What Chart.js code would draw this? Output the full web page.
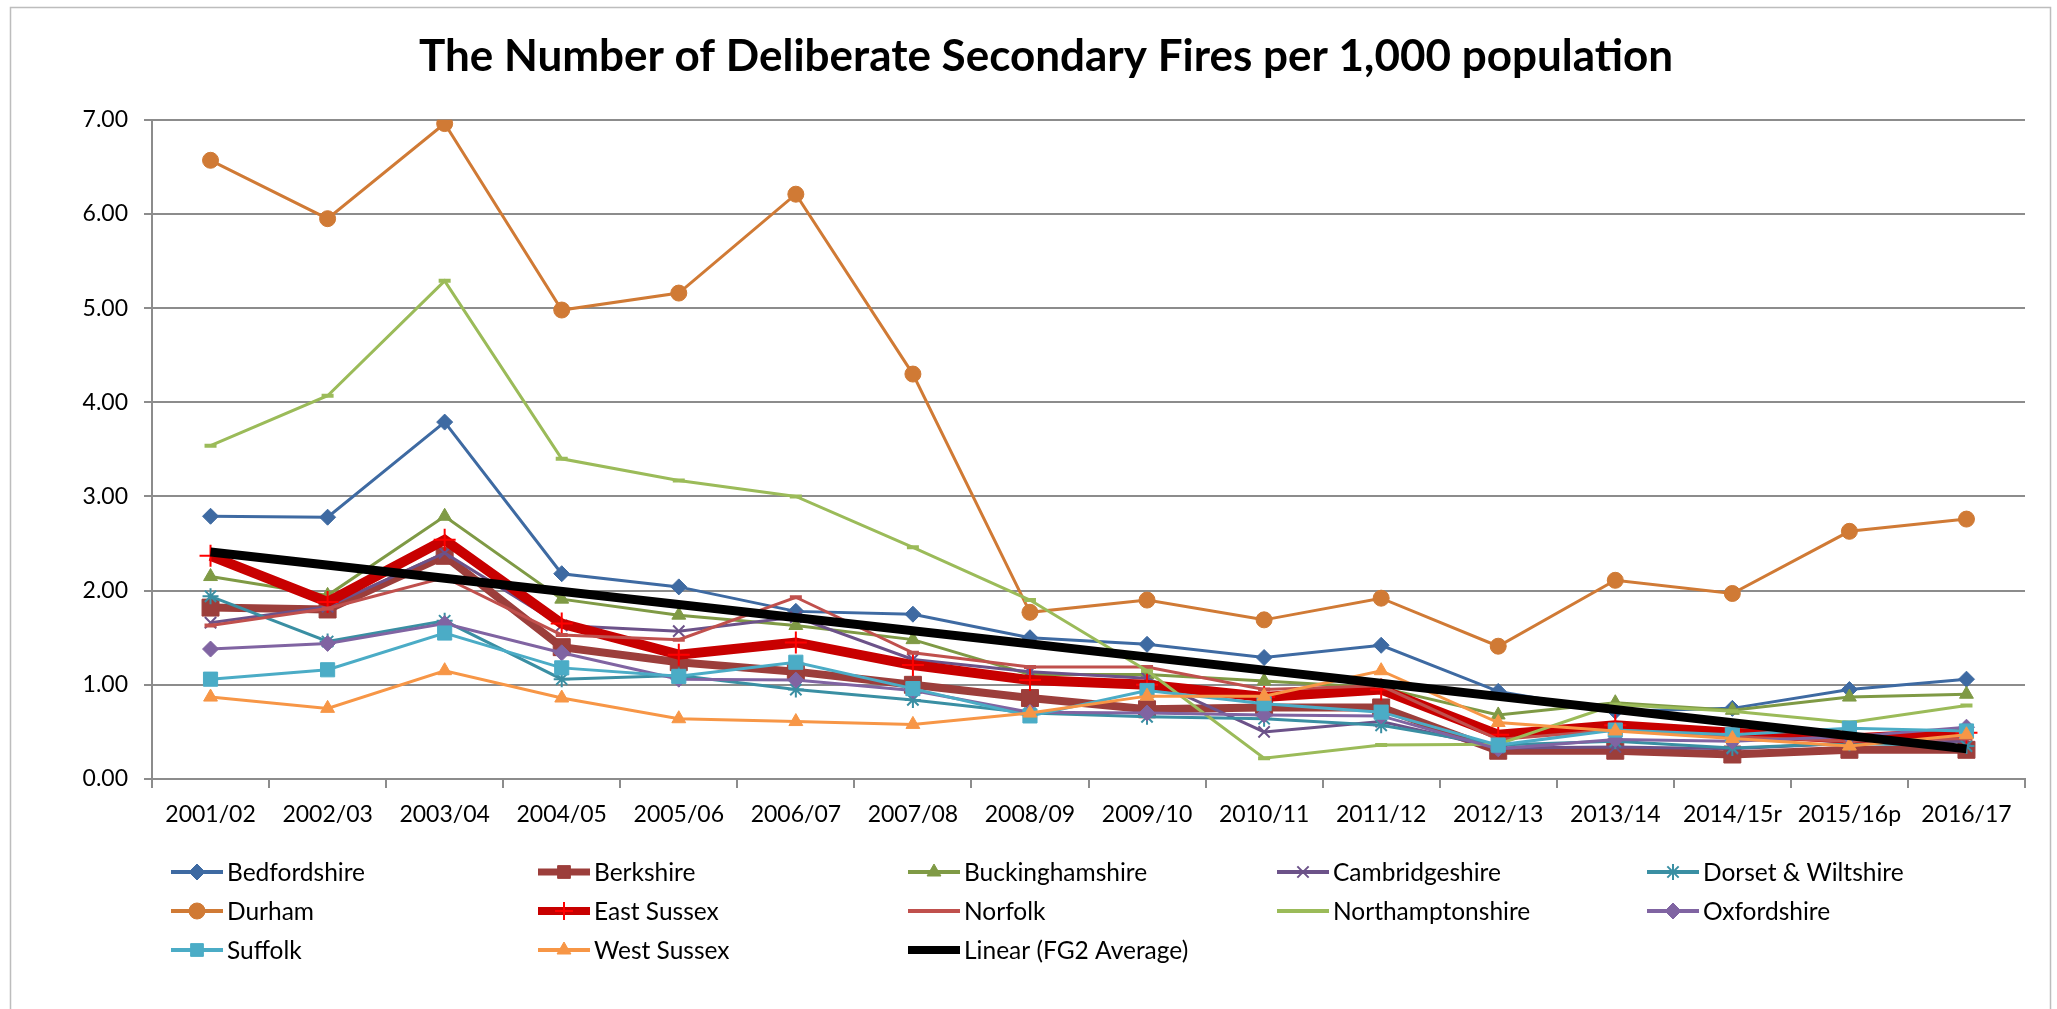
<!DOCTYPE html>
<html><head><meta charset="utf-8">
<script src="https://cdn.jsdelivr.net/npm/chart.js@4.4.1/dist/chart.umd.min.js"></script>
<style>html,body{margin:0;padding:0;background:#fff;overflow:hidden}canvas{display:block}</style>
</head><body>
<canvas id="c" width="2057" height="1009"></canvas>
<script>
// ---------- DATA ----------
const categories = ['2001/02','2002/03','2003/04','2004/05','2005/06','2006/07','2007/08','2008/09','2009/10','2010/11','2011/12','2012/13','2013/14','2014/15r','2015/16p','2016/17'];
const yTickValues = [0, 1, 2, 3, 4, 5, 6, 7];
const bedfordshire     = [2.79, 2.78, 3.79, 2.18, 2.04, 1.78, 1.75, 1.50, 1.43, 1.29, 1.42, 0.93, 0.72, 0.75, 0.95, 1.06];
const berkshire        = [1.82, 1.80, 2.37, 1.40, 1.24, 1.14, 1.00, 0.86, 0.74, 0.76, 0.76, 0.30, 0.30, 0.26, 0.31, 0.31];
const buckinghamshire  = [2.15, 1.95, 2.79, 1.91, 1.74, 1.63, 1.48, 1.11, 1.11, 1.04, 0.97, 0.68, 0.81, 0.73, 0.87, 0.90];
const cambridgeshire   = [1.66, 1.83, 2.40, 1.63, 1.57, 1.72, 1.27, 1.14, 1.07, 0.50, 0.61, 0.33, 0.34, 0.32, 0.38, 0.40];
const dorsetWiltshire  = [1.94, 1.46, 1.68, 1.06, 1.10, 0.95, 0.84, 0.70, 0.66, 0.64, 0.57, 0.36, 0.40, 0.33, 0.38, 0.35];
const durham           = [6.57, 5.95, 6.96, 4.98, 5.16, 6.21, 4.30, 1.77, 1.90, 1.69, 1.92, 1.41, 2.11, 1.97, 2.63, 2.76];
const eastSussex       = [2.37, 1.88, 2.54, 1.65, 1.32, 1.45, 1.21, 1.05, 1.00, 0.87, 0.95, 0.47, 0.57, 0.49, 0.43, 0.49];
const norfolk          = [1.63, 1.81, 2.14, 1.53, 1.48, 1.93, 1.34, 1.19, 1.19, 0.95, 0.99, 0.42, 0.52, 0.45, 0.40, 0.43];
const northamptonshire = [3.54, 4.07, 5.29, 3.40, 3.17, 3.00, 2.46, 1.90, 1.15, 0.22, 0.36, 0.37, 0.79, 0.72, 0.60, 0.78];
const oxfordshire      = [1.38, 1.44, 1.65, 1.34, 1.06, 1.05, 0.94, 0.71, 0.70, 0.68, 0.67, 0.32, 0.42, 0.40, 0.45, 0.55];
const suffolk          = [1.06, 1.16, 1.55, 1.18, 1.09, 1.24, 0.96, 0.67, 0.94, 0.80, 0.71, 0.36, 0.52, 0.47, 0.54, 0.51];
const westSussex       = [0.87, 0.75, 1.15, 0.86, 0.64, 0.61, 0.58, 0.70, 0.88, 0.88, 1.15, 0.60, 0.51, 0.43, 0.35, 0.47];
// Linear trendline of FG2 average: start and end values (line spans the gap)
const fg2TrendStart = 2.41;
const fg2TrendEnd = 0.32;
const fg2Trend = categories.map((c, i) => i === 0 ? fg2TrendStart : (i === categories.length - 1 ? fg2TrendEnd : null));

const FONT = 'Lato, "Open Sans", sans-serif';

function series(label, data, color, opts) {
  return Object.assign({
    label, data,
    borderColor: color,
    backgroundColor: color,
    pointBackgroundColor: color,
    pointBorderColor: color,
    borderWidth: 3,
    pointBorderWidth: 1,
    pointRadius: 7,
    pointHoverRadius: 7,
    tension: 0,
    fill: false
  }, opts || {});
}

const datasets = [
  series('Bedfordshire', bedfordshire, '#3E6AA2', {pointStyle: 'rectRot', pointRadius: 8}),
  series('Berkshire', berkshire, '#9C3E3B', {pointStyle: 'rect', pointRadius: 12, borderWidth: 8, legendLineWidth: 7}),
  series('Buckinghamshire', buckinghamshire, '#7F9A45', {pointStyle: 'triangle', pointRadius: 8}),
  series('Cambridgeshire', cambridgeshire, '#6C5289', {pointStyle: 'crossRot', pointRadius: 8, pointBorderWidth: 2}),
  series('Dorset & Wiltshire', dorsetWiltshire, '#3A8FA3', {pointStyle: 'star', pointRadius: 8, pointBorderWidth: 2}),
  series('Durham', durham, '#D07A35', {pointStyle: 'circle', pointRadius: 8}),
  series('East Sussex', eastSussex, '#C80000', {pointStyle: 'cross', pointRadius: 11, pointBorderWidth: 2, pointBorderColor: '#FF0000', pointBackgroundColor: '#FF0000', borderWidth: 10, legendLineWidth: 8}),
  series('Norfolk', norfolk, '#C0504D', {pointStyle: 'line', pointRadius: 6, pointBorderWidth: 4}),
  series('Northamptonshire', northamptonshire, '#9BBB59', {pointStyle: 'line', pointRadius: 6, pointBorderWidth: 4}),
  series('Oxfordshire', oxfordshire, '#8064A2', {pointStyle: 'rectRot', pointRadius: 8}),
  series('Suffolk', suffolk, '#4BACC6', {pointStyle: 'rect', pointRadius: 10}),
  series('West Sussex', westSussex, '#F79646', {pointStyle: 'triangle', pointRadius: 8}),
  series('Linear (FG2 Average)', fg2Trend, '#000000', {pointRadius: 0, pointStyle: false, borderWidth: 9, spanGaps: true, legendLineWidth: 8})
];
// later series drawn on top (as in the original), trendline on top of all
datasets.forEach((d, i) => { d.order = datasets.length - i; });

const frameAndLegend = {
  id: 'frameAndLegend',
  beforeDraw(chart) {
    const ctx = chart.ctx;
    ctx.save();
    ctx.fillStyle = '#ffffff';
    ctx.fillRect(0, 0, chart.width, chart.height);
    ctx.strokeStyle = '#bdbdbd';
    ctx.lineWidth = 1.5;
    ctx.strokeRect(10.5, 7.5, 2040, 1020);
    ctx.restore();
  },
  afterDraw(chart) {
    const ctx = chart.ctx;
    const colX = [171, 538, 908, 1277, 1647];
    const rowY = [872, 911, 950];
    chart.data.datasets.forEach((ds, i) => {
      const x0 = colX[i % 5], y = rowY[Math.floor(i / 5)];
      ctx.save();
      ctx.strokeStyle = ds.borderColor;
      ctx.lineWidth = ds.legendLineWidth || 4;
      ctx.beginPath();
      ctx.moveTo(x0, y);
      ctx.lineTo(x0 + 52, y);
      ctx.stroke();
      if (ds.pointStyle && ds.pointRadius > 0) {
        ctx.fillStyle = ds.pointBackgroundColor;
        ctx.strokeStyle = ds.pointBorderColor;
        ctx.lineWidth = ds.pointBorderWidth;
        Chart.helpers.drawPoint(ctx, {pointStyle: ds.pointStyle, radius: Math.min(ds.pointRadius, 9), rotation: 0, borderWidth: ds.pointBorderWidth}, x0 + 26, y);
      }
      ctx.fillStyle = '#000000';
      ctx.font = '24.5px ' + FONT;
      ctx.textBaseline = 'middle';
      ctx.textAlign = 'left';
      ctx.fillText(ds.label, x0 + 56, y + 1);
      ctx.restore();
    });
  }
};

new Chart(document.getElementById('c'), {
  type: 'line',
  data: { labels: categories, datasets },
  plugins: [frameAndLegend],
  options: {
    responsive: false,
    animation: false,
    events: [],
    layout: { padding: { left: 67, right: 32, top: 0, bottom: 170 } },
    plugins: {
      legend: { display: false },
      tooltip: { enabled: false },
      title: {
        display: true,
        text: 'The Number of Deliberate Secondary Fires per 1,000 population',
        color: '#000000',
        font: { family: FONT, size: 44, weight: 'bold', lineHeight: 1.2 },
        padding: { top: 30, bottom: 37 }
      }
    },
    scales: {
      x: {
        type: 'category',
        offset: true,
        grid: { display: true, drawOnChartArea: false, drawTicks: true, tickLength: 9, color: '#8c8c8c', lineWidth: 2, offset: true },
        border: { display: true, color: '#8c8c8c', width: 2 },
        ticks: { color: '#000000', font: { family: FONT, size: 23 }, padding: 13, maxRotation: 0, autoSkip: false },
        afterFit(scale) { scale.height = 60; }
      },
      y: {
        min: 0, max: 7,
        afterBuildTicks(scale) { scale.ticks = yTickValues.map(v => ({ value: v })); },
        grid: { color: '#8c8c8c', lineWidth: 2, drawTicks: true, tickLength: 8 },
        border: { display: true, color: '#8c8c8c', width: 2 },
        ticks: { color: '#000000', font: { family: FONT, size: 23 }, padding: 16, callback: v => Number(v).toFixed(2) },
        afterFit(scale) { scale.width = 85; }
      }
    }
  }
});
</script>
</body></html>
